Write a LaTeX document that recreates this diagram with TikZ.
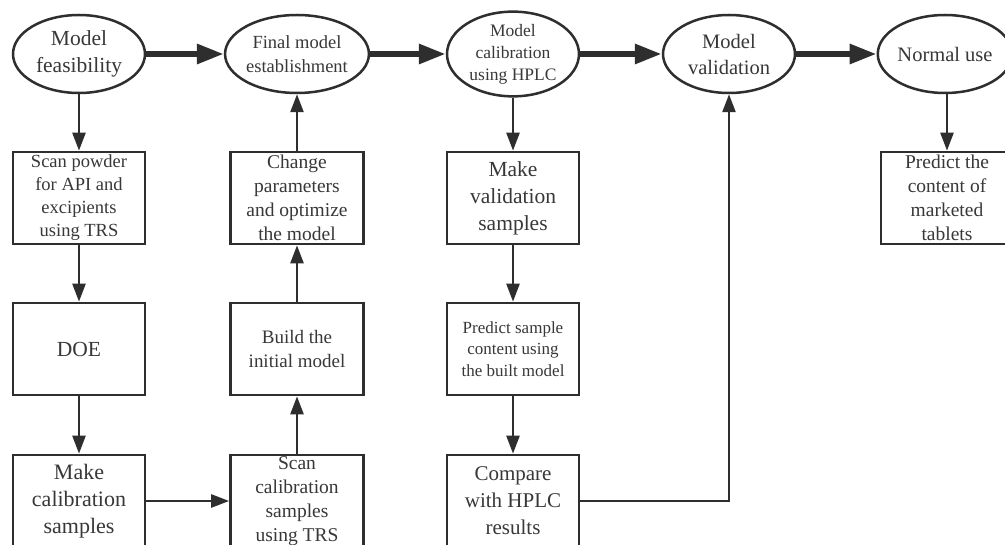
\documentclass[tikz,border=0pt]{standalone}
\usepackage{fontspec}
\setmainfont{Liberation Serif}
\usetikzlibrary{arrows.meta,shapes.geometric}
\definecolor{ln}{HTML}{2E2E2E}
\definecolor{tx}{HTML}{383838}
\newcommand{\fs}[2]{\fontsize{#1}{#2}\selectfont}
\tikzset{
  ell/.style={ellipse, draw=ln, line width=2.5pt, minimum width=132pt, minimum height=78pt, inner sep=0pt, align=center, text=tx},
  rbox/.style={rectangle, draw=ln, line width=2.7pt, minimum width=132pt, minimum height=92pt, inner sep=0pt, align=center, text=tx},
  smallarrow/.style={draw=ln, line width=2.5pt, -{Triangle[length=18pt,width=13pt]}},
  bigarrow/.style={draw=ln, line width=6pt, -{Triangle[length=27pt,width=19pt]}}
}
\begin{document}
\begin{tikzpicture}[x=1pt,y=-1pt]
\useasboundingbox (0,0) rectangle (1005,545);
\fill[white] (0,0) rectangle (1005,545);
\clip (0,0) rectangle (1005,545);
% ellipses
\node[ell, font=\fs{21.5}{27}] (feas) at (79,54) {Model\\feasibility};
\node[ell, font=\fs{18.5}{24}] (final) at (297,54) {Final model\\establishment};
\node[ell, font=\fs{17.5}{22}] (cal) at (513,54) {Model\\calibration\\using HPLC};
\node[ell, font=\fs{20.5}{26}] (val) at (729,54) {Model\\validation};
\node[ell, font=\fs{20.5}{26}, minimum width=130pt] (use) at (945,54) {Normal use};
% column 1
\node[rbox, font=\fs{18.5}{23}] (scan) at (79,198) {Scan powder\\for API and\\excipients\\using TRS};
\node[rbox, font=\fs{21.5}{27}] (doe) at (79,349) {DOE};
\node[rbox, font=\fs{22}{27}] (mcal) at (79,501) {Make\\calibration\\samples};
% column 2
\node[rbox, font=\fs{19.5}{24}, minimum width=133pt] (chg) at (297,198) {Change\\parameters\\and optimize\\the model};
\node[rbox, font=\fs{19}{24}, minimum width=133pt] (bld) at (297,349) {Build the\\initial model};
\node[rbox, font=\fs{19.5}{24}, minimum width=133pt] (scal) at (297,501) {Scan\\calibration\\samples\\using TRS};
% column 3
\node[rbox, font=\fs{21.5}{27}] (mval) at (513,198) {Make\\validation\\samples};
\node[rbox, font=\fs{17}{21.5}] (pred) at (513,349) {Predict sample\\content using\\the built model};
\node[rbox, font=\fs{21}{27}] (cmp) at (513,501) {Compare\\with HPLC\\results};
% column 5
\node[rbox, font=\fs{19.5}{24}] (ptab) at (947,198) {Predict the\\content of\\marketed\\tablets};
% thick arrows
\draw[bigarrow] (feas) -- (final);
\draw[bigarrow] (final) -- (cal);
\draw[bigarrow] (cal) -- (val);
\draw[bigarrow] (val) -- (use);
% thin arrows
\draw[smallarrow] (feas) -- (scan);
\draw[smallarrow] (scan) -- (doe);
\draw[smallarrow] (doe) -- (mcal);
\draw[smallarrow] (mcal) -- (scal);
\draw[smallarrow] (scal) -- (bld);
\draw[smallarrow] (bld) -- (chg);
\draw[smallarrow] (chg) -- (final);
\draw[smallarrow] (cal) -- (mval);
\draw[smallarrow] (mval) -- (pred);
\draw[smallarrow] (pred) -- (cmp);
\draw[smallarrow] (cmp.east) -| (val.south);
\draw[smallarrow] (use.south -| ptab.north) -- (ptab.north);
\end{tikzpicture}
\end{document}
